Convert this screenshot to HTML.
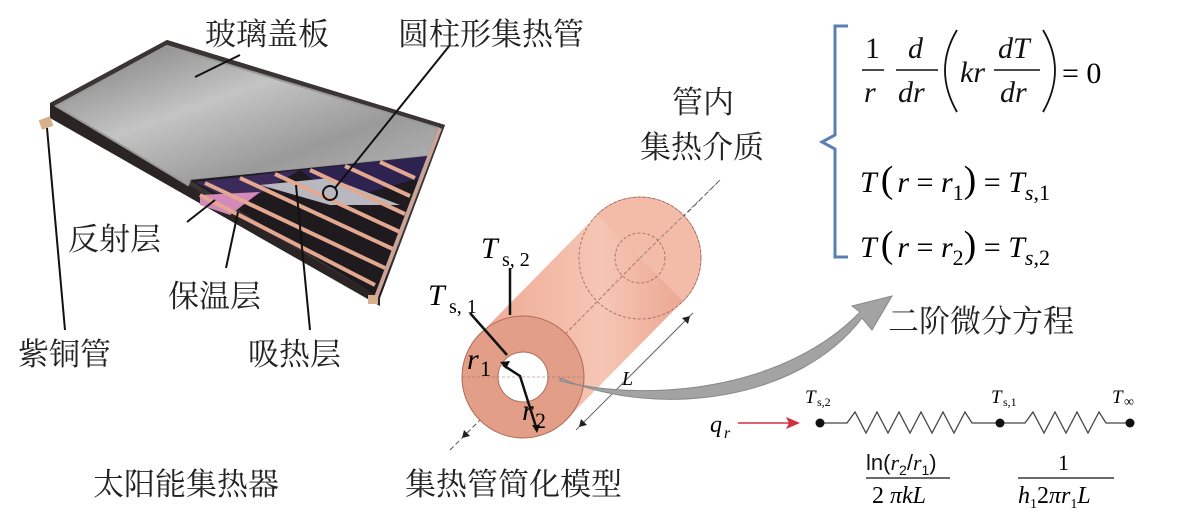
<!DOCTYPE html>
<html><head><meta charset="utf-8"><style>
html,body{margin:0;padding:0;background:#fff;}
svg{display:block}
svg text{font-family:"Liberation Serif","DejaVu Serif",serif;}
svg text.cn{font-family:"Liberation Serif","Noto Serif CJK SC","Noto Sans CJK SC",serif;font-size:31px;fill:#222}
svg text.sans{font-family:"Liberation Sans",sans-serif;}
</style></head><body>
<svg width="1181" height="521" viewBox="0 0 1181 521" xmlns="http://www.w3.org/2000/svg">
<defs>
<linearGradient id="gl" x1="0" y1="0" x2="1" y2="1">
<stop offset="0" stop-color="#7a7a7a"/><stop offset="0.4" stop-color="#c4c4c4"/><stop offset="0.7" stop-color="#9a9a9a"/><stop offset="1" stop-color="#b8b8b8"/>
</linearGradient>
<linearGradient id="cy" x1="0" y1="0" x2="1" y2="0">
<stop offset="0" stop-color="#eeaa94"/><stop offset="0.6" stop-color="#f6c6b4"/><stop offset="1" stop-color="#eaa892"/>
</linearGradient>
</defs>
<!-- solar panel -->
<polygon points="50,103 167,40 445,125 380,298 380,306 50,118" fill="#2a2424"/>
<polygon points="50,103 167,40 445,125 380,298" fill="#3a3434"/>
<polygon points="56,106 167,46 438,128 428,156 190,180 188,185" fill="url(#gl)" stroke="#999" stroke-width="2"/>
<polygon points="190,180 428,156 380,298" fill="#1e1a1e"/>
<polygon points="195,182 300,170 240,205" fill="#3b2a5a"/>
<polygon points="200,195 260,192 230,215 200,205" fill="#d48ab8"/>
<polygon points="300,170 428,156 420,178 340,200" fill="#2e2250"/>
<polygon points="260,185 330,178 400,205 330,205" fill="#b8b8c0"/>
<g stroke="#e4a890" stroke-width="4">
<line x1="205" y1="183" x2="385" y2="268"/>
<line x1="240" y1="178" x2="395" y2="250"/>
<line x1="275" y1="174" x2="400" y2="232"/>
<line x1="310" y1="170" x2="405" y2="214"/>
<line x1="345" y1="166" x2="410" y2="196"/>
<line x1="380" y1="162" x2="415" y2="178"/>
<line x1="200" y1="195" x2="375" y2="285"/>
</g>
<line x1="440" y1="128" x2="375" y2="300" stroke="#c9a497" stroke-width="4"/>
<rect x="40" y="118" width="12" height="10" fill="#d6b08a" transform="rotate(-20 46 123)"/>
<rect x="368" y="295" width="10" height="9" fill="#d6b08a"/>
<!-- leaders -->
<g stroke="#111" stroke-width="2" fill="none">
<line x1="240" y1="55" x2="195" y2="77"/>
<line x1="450" y1="45" x2="335" y2="188"/>
<circle cx="330" cy="193" r="7"/>
<line x1="187" y1="222" x2="215" y2="200"/>
<line x1="226" y1="268" x2="238" y2="212"/>
<line x1="65" y1="330" x2="47" y2="128"/>
<line x1="310" y1="330" x2="296" y2="185"/>
</g>
<!-- labels -->
<text class="cn" x="205" y="45">玻璃盖板</text>
<text class="cn" x="398" y="45">圆柱形集热管</text>
<text class="cn" x="672" y="113">管内</text>
<text class="cn" x="640" y="158">集热介质</text>
<text class="cn" x="68" y="250">反射层</text>
<text class="cn" x="168" y="307">保温层</text>
<text class="cn" x="18" y="365">紫铜管</text>
<text class="cn" x="248" y="365">吸热层</text>
<text class="cn" x="93" y="495">太阳能集热器</text>
<text class="cn" x="405" y="495">集热管简化模型</text>
<text class="cn" x="888" y="332">二阶微分方程</text>
<!-- cylinder -->
<line x1="450" y1="450" x2="720" y2="180" stroke="#555" stroke-width="1" stroke-dasharray="5,3"/>
<circle cx="640" cy="258" r="61" fill="#f3bca8" stroke="#c98b78" stroke-width="0.8"/>
<polygon points="566,420 480,334 597,215 683,301" fill="url(#cy)"/>
<path d="M597,215 A61,61 0 0 1 683,301" fill="#f3bca8"/>
<circle cx="640" cy="258" r="61" fill="none" stroke="#a06060" stroke-width="0.8" stroke-dasharray="3,2"/>
<circle cx="640" cy="258" r="25" fill="none" stroke="#a06060" stroke-width="0.8" stroke-dasharray="3,2"/>
<line x1="523" y1="377" x2="640" y2="258" stroke="#a06060" stroke-width="0.8" stroke-dasharray="4,2"/>
<line x1="720" y1="180" x2="640" y2="258" stroke="#777" stroke-width="0.8" stroke-dasharray="4,2"/>
<circle cx="523" cy="377" r="61" fill="#e39e88" stroke="#b06a5a" stroke-width="1"/>
<circle cx="523" cy="377" r="25" fill="#fff" stroke="#b06a5a" stroke-width="1"/>
<line x1="462" y1="377" x2="584" y2="377" stroke="#a06060" stroke-width="0.6" stroke-dasharray="3,2"/>
<!-- L dimension -->
<line x1="576" y1="430" x2="693" y2="313" stroke="#666" stroke-width="1"/>
<path d="M579,427 l8,-2 l-6,-6z M690,316 l-8,2 l6,6z" fill="#222"/>
<text x="622" y="385" font-size="20" font-style="italic">L</text>
<path d="M462,438 l8,-2 l-6,-6z" fill="#222"/>
<!-- gray arrow -->
<path d="M560,378 C660,420 800,400 862,318 L872,330 L892,296 L852,306 L860,312 C790,385 660,405 560,381 Z" fill="#a3a3a3" stroke="#888" stroke-width="1"/>
<!-- radius lines -->
<g stroke="#111" stroke-width="2.5" fill="none">
<line x1="510" y1="268" x2="510" y2="315"/>
<line x1="470" y1="313" x2="507" y2="355"/>
<polyline points="503,365 520,376 537,430"/>
</g>
<path d="M500,362 l10,-1 l-4,8z M537,433 l-5,-8 l8,0z" fill="#111"/>
<text x="481" y="258" font-size="30" font-style="italic">T</text><text x="502" y="266" font-size="20">s, 2</text>
<text x="428" y="305" font-size="30" font-style="italic">T</text><text x="449" y="313" font-size="20">s, 1</text>
<text x="467" y="369" font-size="30" font-style="italic">r</text><text x="480" y="376" font-size="22">1</text>
<text x="522" y="420" font-size="30" font-style="italic">r</text><text x="535" y="428" font-size="22">2</text>
<!-- brace -->
<path d="M848,26 L835,26 L835,135 L822,142 L835,149 L835,257 L848,257" fill="none" stroke="#5b7fb4" stroke-width="3"/>
<!-- eq1 -->
<g font-size="30" font-style="italic" fill="#111">
<text x="865" y="58" font-style="normal">1</text>
<text x="864" y="102">r</text>
<text x="908" y="58">d</text>
<text x="898" y="102">dr</text>
<text x="960" y="82">kr</text>
<text x="998" y="58">dT</text>
<text x="1000" y="102">dr</text>
</g>
<line x1="862" y1="70" x2="884" y2="70" stroke="#111" stroke-width="1.5"/>
<line x1="896" y1="70" x2="938" y2="70" stroke="#111" stroke-width="1.5"/>
<line x1="994" y1="70" x2="1040" y2="70" stroke="#111" stroke-width="1.5"/>
<path d="M957,30 Q933,70 957,112" fill="none" stroke="#111" stroke-width="1.8"/>
<path d="M1043,30 Q1067,70 1043,112" fill="none" stroke="#111" stroke-width="1.8"/>
<text x="1062" y="83" font-size="30">= 0</text>
<!-- eq2 -->
<text x="860" y="192" font-size="30"><tspan font-style="italic">T</tspan><tspan font-size="38" dx="4">(</tspan><tspan font-style="italic" dx="4">r</tspan><tspan> = </tspan><tspan font-style="italic">r</tspan><tspan font-size="22" dy="8">1</tspan><tspan font-size="38" dy="-8">)</tspan><tspan> = </tspan><tspan font-style="italic">T</tspan><tspan font-style="italic" font-size="22" dy="8">s</tspan><tspan font-size="22">,1</tspan></text>
<text x="860" y="257" font-size="30"><tspan font-style="italic">T</tspan><tspan font-size="38" dx="4">(</tspan><tspan font-style="italic" dx="4">r</tspan><tspan> = </tspan><tspan font-style="italic">r</tspan><tspan font-size="22" dy="8">2</tspan><tspan font-size="38" dy="-8">)</tspan><tspan> = </tspan><tspan font-style="italic">T</tspan><tspan font-style="italic" font-size="22" dy="8">s</tspan><tspan font-size="22">,2</tspan></text>
<!-- circuit -->
<text x="710" y="432" font-size="24" font-style="italic">q</text><text x="724" y="438" font-size="16" font-style="italic">r</text>
<line x1="738" y1="423" x2="790" y2="423" stroke="#d23040" stroke-width="1.5"/>
<path d="M800,423 l-14,-6 l3,6 l-3,6z" fill="#d23040"/>
<polyline points="820,423 847,423 855,412 866,433 877,412 888,433 899,412 910,433 921,412 932,433 943,412 954,433 965,412 972,423 1000,423 1025,423 1033,412 1044,433 1055,412 1066,433 1077,412 1088,433 1099,412 1106,423 1130,423" fill="none" stroke="#444" stroke-width="1.3"/>
<circle cx="820" cy="423" r="4.5" fill="#111"/><circle cx="1000" cy="423" r="4.5" fill="#111"/><circle cx="1130" cy="423" r="4.5" fill="#111"/>
<text x="805" y="403" font-size="19" font-style="italic">T</text><text x="817" y="406" font-size="12">s,2</text>
<text x="991" y="403" font-size="19" font-style="italic">T</text><text x="1003" y="406" font-size="12">s,1</text>
<text x="1112" y="403" font-size="19" font-style="italic">T</text><text x="1124" y="406" font-size="14">∞</text>
<text class="sans" x="866" y="470" font-size="22" fill="#111">ln(<tspan font-family="Liberation Serif,serif" font-style="italic">r</tspan><tspan font-size="14" dy="5">2</tspan><tspan dy="-5">/</tspan><tspan font-family="Liberation Serif,serif" font-style="italic">r</tspan><tspan font-size="14" dy="5">1</tspan><tspan dy="-5">)</tspan></text>
<line x1="866" y1="478" x2="950" y2="478" stroke="#111" stroke-width="1.3"/>
<text x="872" y="503" font-size="24"><tspan>2 </tspan><tspan font-style="italic">πkL</tspan></text>
<text x="1058" y="470" font-size="22">1</text>
<line x1="1018" y1="478" x2="1114" y2="478" stroke="#111" stroke-width="1.3"/>
<text x="1018" y="503" font-size="24"><tspan font-style="italic">h</tspan><tspan font-size="14" dy="5">1</tspan><tspan dy="-5">2</tspan><tspan font-style="italic">πr</tspan><tspan font-size="14" dy="5">1</tspan><tspan font-style="italic" dy="-5">L</tspan></text>
</svg>
</body></html>
